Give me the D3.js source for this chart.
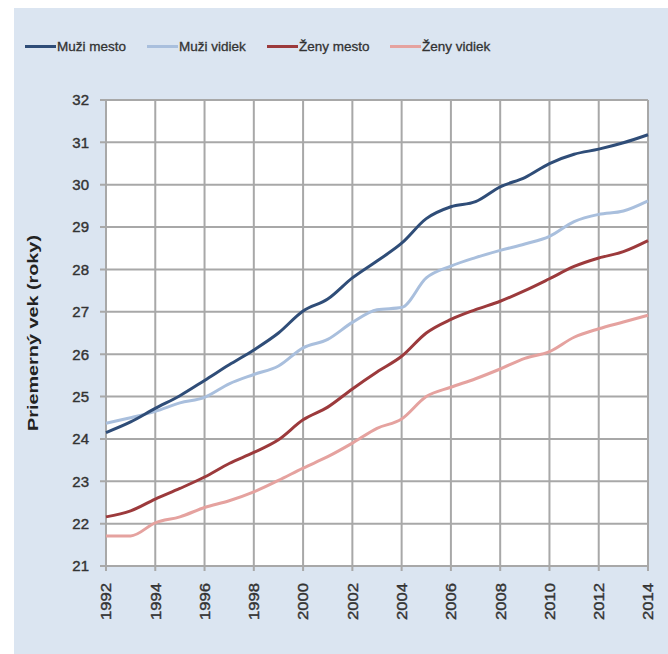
<!DOCTYPE html>
<html><head><meta charset="utf-8">
<script src="https://cdn.jsdelivr.net/npm/d3@7"></script>
<style>html,body{margin:0;padding:0;background:#fff;}svg{display:block;}</style>
</head><body>
<svg id="chart" width="668" height="654"></svg>
<script>
const years = [1992,1993,1994,1995,1996,1997,1998,1999,2000,2001,2002,2003,2004,2005,2006,2007,2008,2009,2010,2011,2012,2013,2014];
const muziMesto  = [24.15,24.4,24.72,25.02,25.38,25.75,26.1,26.5,27.02,27.3,27.8,28.2,28.62,29.2,29.48,29.6,29.95,30.17,30.5,30.72,30.84,30.99,31.18];
const muziVidiek = [24.37,24.5,24.65,24.85,24.98,25.3,25.52,25.72,26.15,26.35,26.75,27.05,27.1,27.8,28.08,28.28,28.45,28.6,28.78,29.13,29.3,29.38,29.62];
const zenyMesto  = [22.16,22.3,22.58,22.83,23.1,23.42,23.68,23.98,24.45,24.75,25.18,25.58,25.95,26.5,26.82,27.05,27.25,27.5,27.78,28.07,28.27,28.42,28.68];
const zenyVidiek = [21.71,21.71,22.02,22.16,22.38,22.54,22.75,23.02,23.31,23.58,23.9,24.25,24.47,25.0,25.22,25.42,25.65,25.9,26.06,26.4,26.6,26.76,26.92];
const seriesNames = ["Muži mesto","Muži vidiek","Ženy mesto","Ženy vidiek"];
const seriesColors = ["#2f4d78","#a9bfdd","#9c3a3c","#e5a29f"];
const yTicks = [21,22,23,24,25,26,27,28,29,30,31,32];
const xTicks = [1992,1994,1996,1998,2000,2002,2004,2006,2008,2010,2012,2014];
const yTitle = "Priemerný vek (roky)";

const svg = d3.select("#chart");
const font = "'Liberation Sans', Arial, sans-serif";
svg.append("rect").attr("x",14).attr("y",8).attr("width",654).attr("height",646).attr("fill","#dbe5f1");

const m = {left:106,right:648,top:100,bottom:566};
const x = d3.scaleLinear().domain([1992,2014]).range([m.left,m.right]);
const y = d3.scaleLinear().domain([21,32]).range([m.bottom,m.top]);

svg.append("rect").attr("x",m.left).attr("y",m.top).attr("width",m.right-m.left).attr("height",m.bottom-m.top).attr("fill","#ffffff");

const grid = svg.append("g");
grid.selectAll("line.h").data(yTicks).join("line")
  .attr("x1",m.left-6).attr("x2",m.right).attr("y1",d=>y(d)).attr("y2",d=>y(d))
  .attr("stroke","#a8a8a8").attr("stroke-width",2);
grid.selectAll("line.v").data(xTicks).join("line")
  .attr("x1",d=>x(d)).attr("x2",d=>x(d)).attr("y1",m.top).attr("y2",m.bottom+5)
  .attr("stroke","#a8a8a8").attr("stroke-width",2);

svg.append("g").selectAll("text").data(yTicks).join("text")
  .attr("x",m.left-17).attr("y",d=>y(d)).attr("dy","0.36em")
  .attr("text-anchor","end").attr("font-family",font).attr("font-size",15)
  .attr("fill","#333").attr("stroke","#333").attr("stroke-width",0.4).text(d=>d);

svg.append("g").selectAll("text").data(xTicks).join("text")
  .attr("transform",d=>`translate(${x(d)},${m.bottom+17}) rotate(-90)`)
  .attr("dy","0.36em").attr("text-anchor","end").attr("font-family",font).attr("font-size",15)
  .attr("textLength",37).attr("lengthAdjust","spacingAndGlyphs")
  .attr("fill","#333").attr("stroke","#333").attr("stroke-width",0.4).text(d=>d);

svg.append("text").attr("transform",`translate(33,${(m.top+m.bottom)/2}) rotate(-90)`)
  .attr("text-anchor","middle").attr("dy","0.36em").attr("font-family",font).attr("font-size",14)
  .attr("textLength",196).attr("lengthAdjust","spacingAndGlyphs")
  .attr("font-weight","bold").attr("fill","#222").text(yTitle);

const allSeries = [muziMesto,muziVidiek,zenyMesto,zenyVidiek];
const line = d3.line().x((d,i)=>x(years[i])).y(d=>y(d)).curve(d3.curveMonotoneX);
const order = [3,2,1,0];
svg.append("g").selectAll("path").data(order).join("path")
  .attr("d",k=>line(allSeries[k])).attr("fill","none")
  .attr("stroke",k=>seriesColors[k]).attr("stroke-width",3).attr("stroke-linejoin","round");

const legX = [25,147,267,390];
const leg = svg.append("g");
seriesNames.forEach((n,i)=>{
  leg.append("line").attr("x1",legX[i]).attr("x2",legX[i]+31).attr("y1",46.5).attr("y2",46.5)
    .attr("stroke",seriesColors[i]).attr("stroke-width",3);
  leg.append("text").attr("x",legX[i]+32).attr("y",46.5).attr("dy","0.36em")
    .attr("font-family",font).attr("font-size",13.5).attr("fill","#333").attr("stroke","#333").attr("stroke-width",0.3).text(n);
});
</script>
</body></html>
